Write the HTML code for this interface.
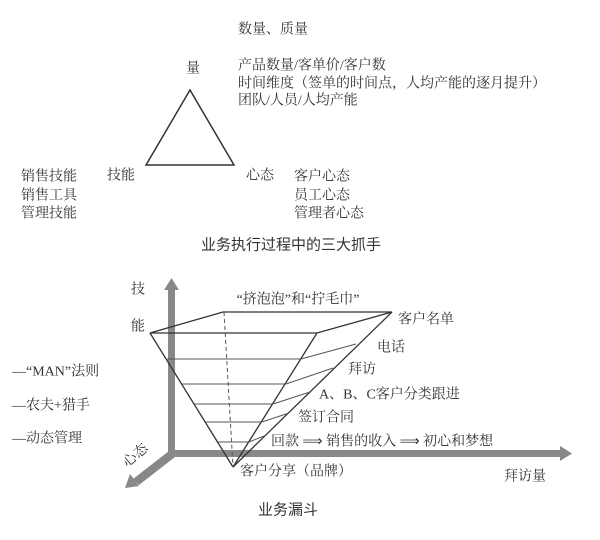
<!DOCTYPE html>
<html><head><meta charset="utf-8"><style>
body{margin:0;background:#fff;}
svg text{font-family:"Liberation Serif","Noto Serif CJK SC","Noto Sans CJK SC",serif;font-size:14px;fill:#333;dominant-baseline:central;}
</style></head><body>
<svg width="600" height="535" viewBox="0 0 600 535" xmlns="http://www.w3.org/2000/svg">
<polygon points="190,90 146,165 234,165" fill="none" stroke="#333" stroke-width="1.5"/>
<text x="193" y="69" text-anchor="middle">量</text>
<text x="107" y="176">技能</text>
<text x="246" y="176">心态</text>
<text x="238" y="30">数量、质量</text>
<text x="238" y="66">产品数量/客单价/客户数</text>
<text x="238" y="84">时间维度（签单的时间点，人均产能的逐月提升）</text>
<text x="238" y="101">团队/人员/人均产能</text>
<text x="21" y="177">销售技能</text>
<text x="21" y="196">销售工具</text>
<text x="21" y="214">管理技能</text>
<text x="294" y="177">客户心态</text>
<text x="294" y="196">员工心态</text>
<text x="294" y="214">管理者心态</text>
<text x="291" y="245" text-anchor="middle" style="font-family:'Liberation Sans','Noto Sans CJK SC',sans-serif;font-size:15px">业务执行过程中的三大抓手</text>

<g fill="#888" stroke="none">
<rect x="168" y="288" width="7" height="167"/>
<polygon points="164,290 171.5,278 179,290"/>
<rect x="171" y="450" width="390" height="7"/>
<polygon points="560,446 572,453.5 560,461"/>
<polygon points="169,451 175,457 139,485 133,479"/>
<polygon points="130,474 125,488 139,486"/>
</g>
<text x="131" y="290">技</text>
<text x="131" y="327">能</text>
<text x="136" y="456" transform="rotate(-40 136 456)" text-anchor="middle">心态</text>

<g fill="none" stroke="#333" stroke-width="1.3">
<polygon points="223,312 392,312 317,333 150,333"/>
<line x1="150" y1="333" x2="233" y2="467"/>
<line x1="317" y1="333" x2="233" y2="467"/>
<line x1="392" y1="312" x2="233" y2="467"/>
</g>
<line x1="224" y1="312" x2="233" y2="467" stroke="#555" stroke-width="1" stroke-dasharray="4,3"/>
<g stroke="#555" stroke-width="1">
<line x1="166" y1="359" x2="301" y2="359"/><line x1="301" y1="359" x2="356" y2="344"/>
<line x1="182" y1="384" x2="286" y2="384"/><line x1="286" y1="384" x2="333" y2="368"/>
<line x1="194" y1="404" x2="273" y2="404"/><line x1="273" y1="404" x2="310" y2="392"/>
<line x1="205" y1="422" x2="262" y2="422"/><line x1="262" y1="422" x2="289" y2="413"/>
<line x1="218" y1="442" x2="249" y2="442"/><line x1="249" y1="442" x2="264" y2="436"/>
</g>
<text x="298" y="300" text-anchor="middle">“挤泡泡”和“拧毛巾”</text>
<text x="398" y="320">客户名单</text>
<text x="377" y="348">电话</text>
<text x="348" y="370">拜访</text>
<text x="319" y="395">A、B、C客户分类跟进</text>
<text x="298" y="418">签订合同</text>
<text x="271" y="442">回款 ⟹ 销售的收入 ⟹ 初心和梦想</text>
<text x="240" y="472">客户分享（品牌）</text>
<text x="504" y="477">拜访量</text>
<text x="12" y="372">—“MAN”法则</text>
<text x="12" y="406">—农夫+猎手</text>
<text x="12" y="439">—动态管理</text>
<text x="288" y="510" text-anchor="middle" style="font-family:'Liberation Sans','Noto Sans CJK SC',sans-serif;font-size:15px">业务漏斗</text>
</svg>
</body></html>
